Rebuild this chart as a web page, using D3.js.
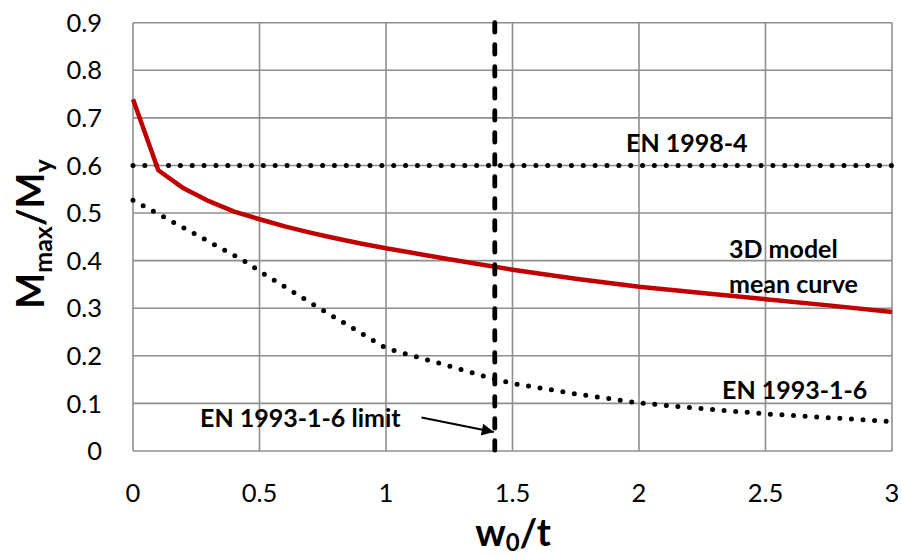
<!DOCTYPE html>
<html>
<head>
<meta charset="utf-8">
<script src="https://cdn.jsdelivr.net/npm/d3@7"></script>
<style>
  html, body { margin: 0; padding: 0; background: #ffffff; }
  svg { display: block; }
  text { font-family: Lato, "Open Sans", sans-serif; fill: #000; }
</style>
</head>
<body>
<svg id="chart" width="901" height="558"></svg>
<script>
// ---- data ----
const xTicks = [0, 0.5, 1, 1.5, 2, 2.5, 3];
const xTickLabels = ["0", "0.5", "1", "1.5", "2", "2.5", "3"];
const yTicks = [0, 0.1, 0.2, 0.3, 0.4, 0.5, 0.6, 0.7, 0.8, 0.9];
const yTickLabels = ["0", "0.1", "0.2", "0.3", "0.4", "0.5", "0.6", "0.7", "0.8", "0.9"];

// 3D model mean curve
const meanX = [0, 0.1, 0.2, 0.3, 0.4, 0.5, 0.6, 0.7, 0.8, 0.9, 1.0, 1.25, 1.5, 1.75, 2.0, 2.25, 2.5, 2.75, 3.0];
const meanY = [0.739, 0.590, 0.552, 0.525, 0.503, 0.487, 0.472, 0.459, 0.447, 0.436, 0.426, 0.403, 0.381, 0.362, 0.345, 0.332, 0.319, 0.306, 0.292];

// EN 1993-1-6 curve
const en93X = [0, 0.1, 0.2, 0.3, 0.4, 0.45, 0.5, 0.6, 0.7, 0.8, 0.9, 1.0, 1.1, 1.2, 1.3, 1.4, 1.5, 1.75, 2.0, 2.25, 2.5, 2.75, 3.0];
const en93Y = [0.527, 0.498, 0.469, 0.440, 0.411, 0.396, 0.378, 0.345, 0.312, 0.280, 0.248, 0.216, 0.201, 0.186, 0.171, 0.155, 0.142, 0.120, 0.101, 0.089, 0.078, 0.070, 0.062];

// EN 1998-4 horizontal limit
const en98X = [0, 3];
const en98Y = [0.6, 0.6];

// EN 1993-1-6 limit (vertical)
const limitX = [1.43, 1.43];
const limitY = [0.9, 0];

// ---- layout ----
const svg = d3.select("#chart");
const x = d3.scaleLinear().domain([0, 3]).range([133, 892]);
const y = d3.scaleLinear().domain([0, 0.9]).range([451, 22.7]);

const grid = "#8e8e8e";

// gridlines
svg.append("g").selectAll("line").data(xTicks).join("line")
  .attr("x1", d => x(d)).attr("x2", d => x(d))
  .attr("y1", y(0)).attr("y2", y(0.9))
  .attr("stroke", grid).attr("stroke-width", 1.6);
svg.append("g").selectAll("line").data(yTicks).join("line")
  .attr("x1", x(0)).attr("x2", x(3))
  .attr("y1", d => y(d)).attr("y2", d => y(d))
  .attr("stroke", grid).attr("stroke-width", 1.6);

// tick labels
svg.append("g").selectAll("text").data(yTicks).join("text")
  .attr("x", 102).attr("y", d => y(d))
  .attr("dy", "0.36em")
  .attr("text-anchor", "end")
  .attr("font-size", 25.5)
  .text((d, i) => yTickLabels[i]);
svg.append("g").selectAll("text").data(xTicks).join("text")
  .attr("x", d => x(d)).attr("y", 501.5)
  .attr("text-anchor", "middle")
  .attr("font-size", 25.5)
  .text((d, i) => xTickLabels[i]);

const line = d3.line().x(d => x(d[0])).y(d => y(d[1]));

// EN 1998-4 dotted
svg.append("path")
  .datum(d3.zip(en98X, en98Y))
  .attr("d", line)
  .attr("fill", "none").attr("stroke", "#000")
  .attr("stroke-width", 5).attr("stroke-linecap", "round")
  .attr("stroke-dasharray", "0,11.85");

// EN 1993-1-6 dotted curve
svg.append("path")
  .datum(d3.zip(en93X, en93Y))
  .attr("d", line)
  .attr("fill", "none").attr("stroke", "#000")
  .attr("stroke-width", 5).attr("stroke-linecap", "round")
  .attr("stroke-dasharray", "0,11.6");

// 3D model mean curve
svg.append("path")
  .datum(d3.zip(meanX, meanY))
  .attr("d", line)
  .attr("fill", "none").attr("stroke", "#c00000")
  .attr("stroke-width", 4.5).attr("stroke-linejoin", "round");

// vertical limit dashed
svg.append("path")
  .datum(d3.zip(limitX, limitY))
  .attr("d", line)
  .attr("fill", "none").attr("stroke", "#000")
  .attr("stroke-width", 4.8).attr("stroke-linecap", "round")
  .attr("stroke-dasharray", "9.5,12.5");

// arrow
svg.append("defs").append("marker")
  .attr("id", "arrow").attr("viewBox", "0 0 10 10")
  .attr("refX", 10).attr("refY", 5)
  .attr("markerWidth", 7).attr("markerHeight", 6)
  .attr("markerUnits", "strokeWidth")
  .attr("orient", "auto")
  .append("path").attr("d", "M0,0 L10,5 L0,10 Z").attr("fill", "#000");
svg.append("line")
  .attr("x1", 421.5).attr("y1", 417.5)
  .attr("x2", x(1.43) - 1).attr("y2", 432)
  .attr("stroke", "#000").attr("stroke-width", 2)
  .attr("marker-end", "url(#arrow)");

// annotations
const ann = svg.append("g").attr("font-weight", "bold").attr("font-size", 25);
ann.append("text").attr("x", 626).attr("y", 152).text("EN 1998-4");
ann.append("text").attr("x", 729).attr("y", 258).text("3D model");
ann.append("text").attr("x", 729).attr("y", 293).text("mean curve");
ann.append("text").attr("x", 722).attr("y", 399).text("EN 1993-1-6");
ann.append("text").attr("x", 200).attr("y", 427).text("EN 1993-1-6 limit");

// axis titles
const yt = svg.append("text")
  .attr("transform", "translate(44,234) rotate(-90)")
  .attr("text-anchor", "middle")
  .attr("font-weight", "bold").attr("font-size", 38);
yt.append("tspan").text("M");
yt.append("tspan").attr("font-size", 25).attr("dy", 8).text("max");
yt.append("tspan").attr("dy", -8).text("/M");
yt.append("tspan").attr("font-size", 25).attr("dy", 8).text("y");

const xt = svg.append("text")
  .attr("x", 513).attr("y", 546)
  .attr("text-anchor", "middle")
  .attr("font-weight", "bold").attr("font-size", 38);
xt.append("tspan").text("w");
xt.append("tspan").attr("font-size", 24).attr("dy", 5).text("0");
xt.append("tspan").attr("dy", -5).text("/t");
</script>
</body>
</html>
